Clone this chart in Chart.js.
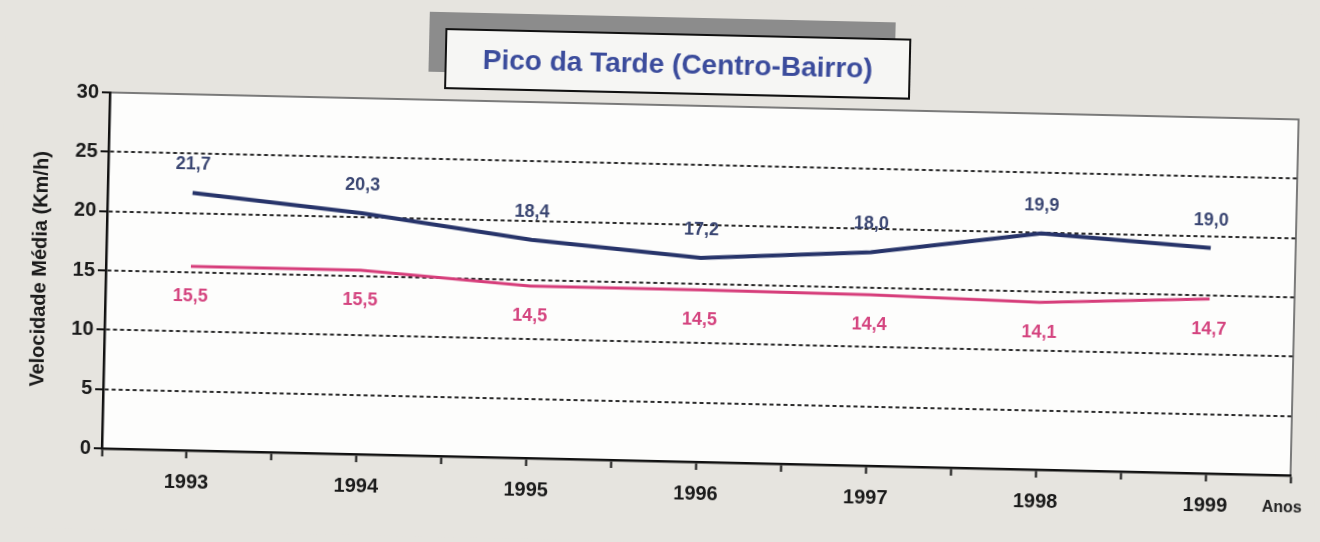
<!DOCTYPE html>
<html lang="pt">
<head>
<meta charset="utf-8">
<title>Pico da Tarde (Centro-Bairro)</title>
<script src="https://cdn.jsdelivr.net/npm/chart.js@4/dist/chart.umd.min.js"></script>
<style>
  html,body{ margin:0; padding:0; background:#e6e4df; overflow:hidden; }
  #page{ position:relative; width:1320px; height:542px; transform:rotate(1.3deg); transform-origin:660px 271px; background:#e6e4df; }
  #page canvas{ position:absolute; left:0; top:0; }
  .shadow{ position:absolute; left:424px; top:17px; width:466px; height:60px; background:#8c8c8c; }
  .title-box{ position:absolute; left:440px; top:33px; width:462px; height:57px; background:#f6f6f4; border:2px solid #111;
    font:bold 28px "Liberation Sans", Arial, sans-serif; color:#3b4c9c; display:flex; align-items:center; justify-content:center; }
</style>
</head>
<body>
<div id="page">
  <canvas id="chart" width="1320" height="542"></canvas>
  <div class="shadow"></div>
  <div class="title-box">Pico da Tarde (Centro-Bairro)</div>
</div>
<script>
// Velocidade média no pico da tarde, sentido Centro-Bairro
const years = [1993, 1994, 1995, 1996, 1997, 1998, 1999];
const seriesBlue = [21.7, 20.3, 18.4, 17.2, 18.0, 19.9, 19.0];
const seriesPink = [15.5, 15.5, 14.5, 14.5, 14.4, 14.1, 14.7];
const yTicks = [0, 5, 10, 15, 20, 25, 30];
const xUnit = "Anos";
const yTitle = "Velocidade Média (Km/h)";

const FONT = '"Liberation Sans", Arial, sans-serif';
const BLUE = "#27346a", BLUE_TXT = "#3a4672";
const PINK = "#d63d7a", PINK_TXT = "#d4447f";

function fmt(v){ return v.toFixed(1).replace(".", ","); }

// plot background + frame
const frame = {
  id:"frame",
  beforeDraw(chart){
    const {ctx, chartArea:a} = chart;
    ctx.save();
    ctx.fillStyle = "#fdfdfc";
    ctx.fillRect(a.left, a.top, a.right-a.left, a.bottom-a.top);
    ctx.strokeStyle = "#6e6e6e"; ctx.lineWidth = 1.8;
    ctx.strokeRect(a.left, a.top, a.right-a.left, a.bottom-a.top);
    ctx.restore();
  }
};

// value labels: blue above, pink below, plus the "Anos" unit
const valueLabels = {
  id:"valueLabels",
  afterDatasetsDraw(chart){
    const ctx = chart.ctx;
    ctx.save();
    ctx.font = "bold 18px " + FONT;
    ctx.textAlign = "center"; ctx.textBaseline = "middle";
    chart.data.datasets.forEach((ds, i)=>{
      const meta = chart.getDatasetMeta(i);
      meta.data.forEach((pt, j)=>{
        ctx.fillStyle = ds.labelColor;
        ctx.fillText(fmt(ds.data[j].y), pt.x, pt.y + ds.labelOffset);
      });
    });
    const xs = chart.scales.x;
    ctx.fillStyle = "#222";
    ctx.font = "bold 16px " + FONT;
    ctx.fillText(xUnit, xs.right - 8, xs.top + 33);
    ctx.restore();
  }
};

new Chart(document.getElementById("chart"), {
  type:"line",
  data:{
    datasets:[
      { label:"Centro-Bairro", data:years.map((x,i)=>({x, y:seriesBlue[i]})), borderColor:BLUE, borderWidth:4,
        pointRadius:0, tension:0, labelColor:BLUE_TXT, labelOffset:-28 },
      { label:"Centro-Bairro 2", data:years.map((x,i)=>({x, y:seriesPink[i]})), borderColor:PINK, borderWidth:3,
        pointRadius:0, tension:0, labelColor:PINK_TXT, labelOffset:30 }
    ]
  },
  options:{
    responsive:false, animation:false,
    layout:{ padding:{ left:0, right:25, top:105, bottom:0 } },
    plugins:{ legend:{display:false}, tooltip:{enabled:false} },
    scales:{
      x:{
        type:"linear", min:years[0]-0.5, max:years[years.length-1]+0.5,
        afterBuildTicks(s){ s.ticks = []; for(let v=years[0]-0.5; v<=years[years.length-1]+0.5; v+=0.5) s.ticks.push({value:v}); },
        afterFit(s){ s.height = 81; },
        ticks:{ autoSkip:false, maxRotation:0, padding:12, color:"#1a1a1a", font:{family:FONT, size:20, weight:"bold"},
          callback:v=> years.includes(v) ? String(v) : "" },
        grid:{ drawOnChartArea:false, tickLength:8, tickColor:"#111", tickWidth:2 },
        border:{ color:"#111", width:2.5 }
      },
      y:{
        min:0, max:30,
        afterBuildTicks(s){ s.ticks = yTicks.map(v=>({value:v})); },
        afterFit(s){ s.width = 106; },
        ticks:{ padding:3, color:"#1a1a1a", font:{family:FONT, size:20, weight:"bold"} },
        grid:{ color:c=> (c.tick && (c.tick.value===0 || c.tick.value===30)) ? "rgba(0,0,0,0)" : "#2a2a2a",
          lineWidth:2, tickLength:8, tickColor:"#111", tickWidth:2, tickBorderDash:[] },
        border:{ color:"#111", width:2.5, dash:[4,3] },
        title:{ display:true, text:yTitle, color:"#1a1a1a", font:{family:FONT, size:20, weight:"bold"}, padding:{top:28, bottom:0} }
      }
    }
  },
  plugins:[frame, valueLabels]
});
</script>
</body>
</html>
